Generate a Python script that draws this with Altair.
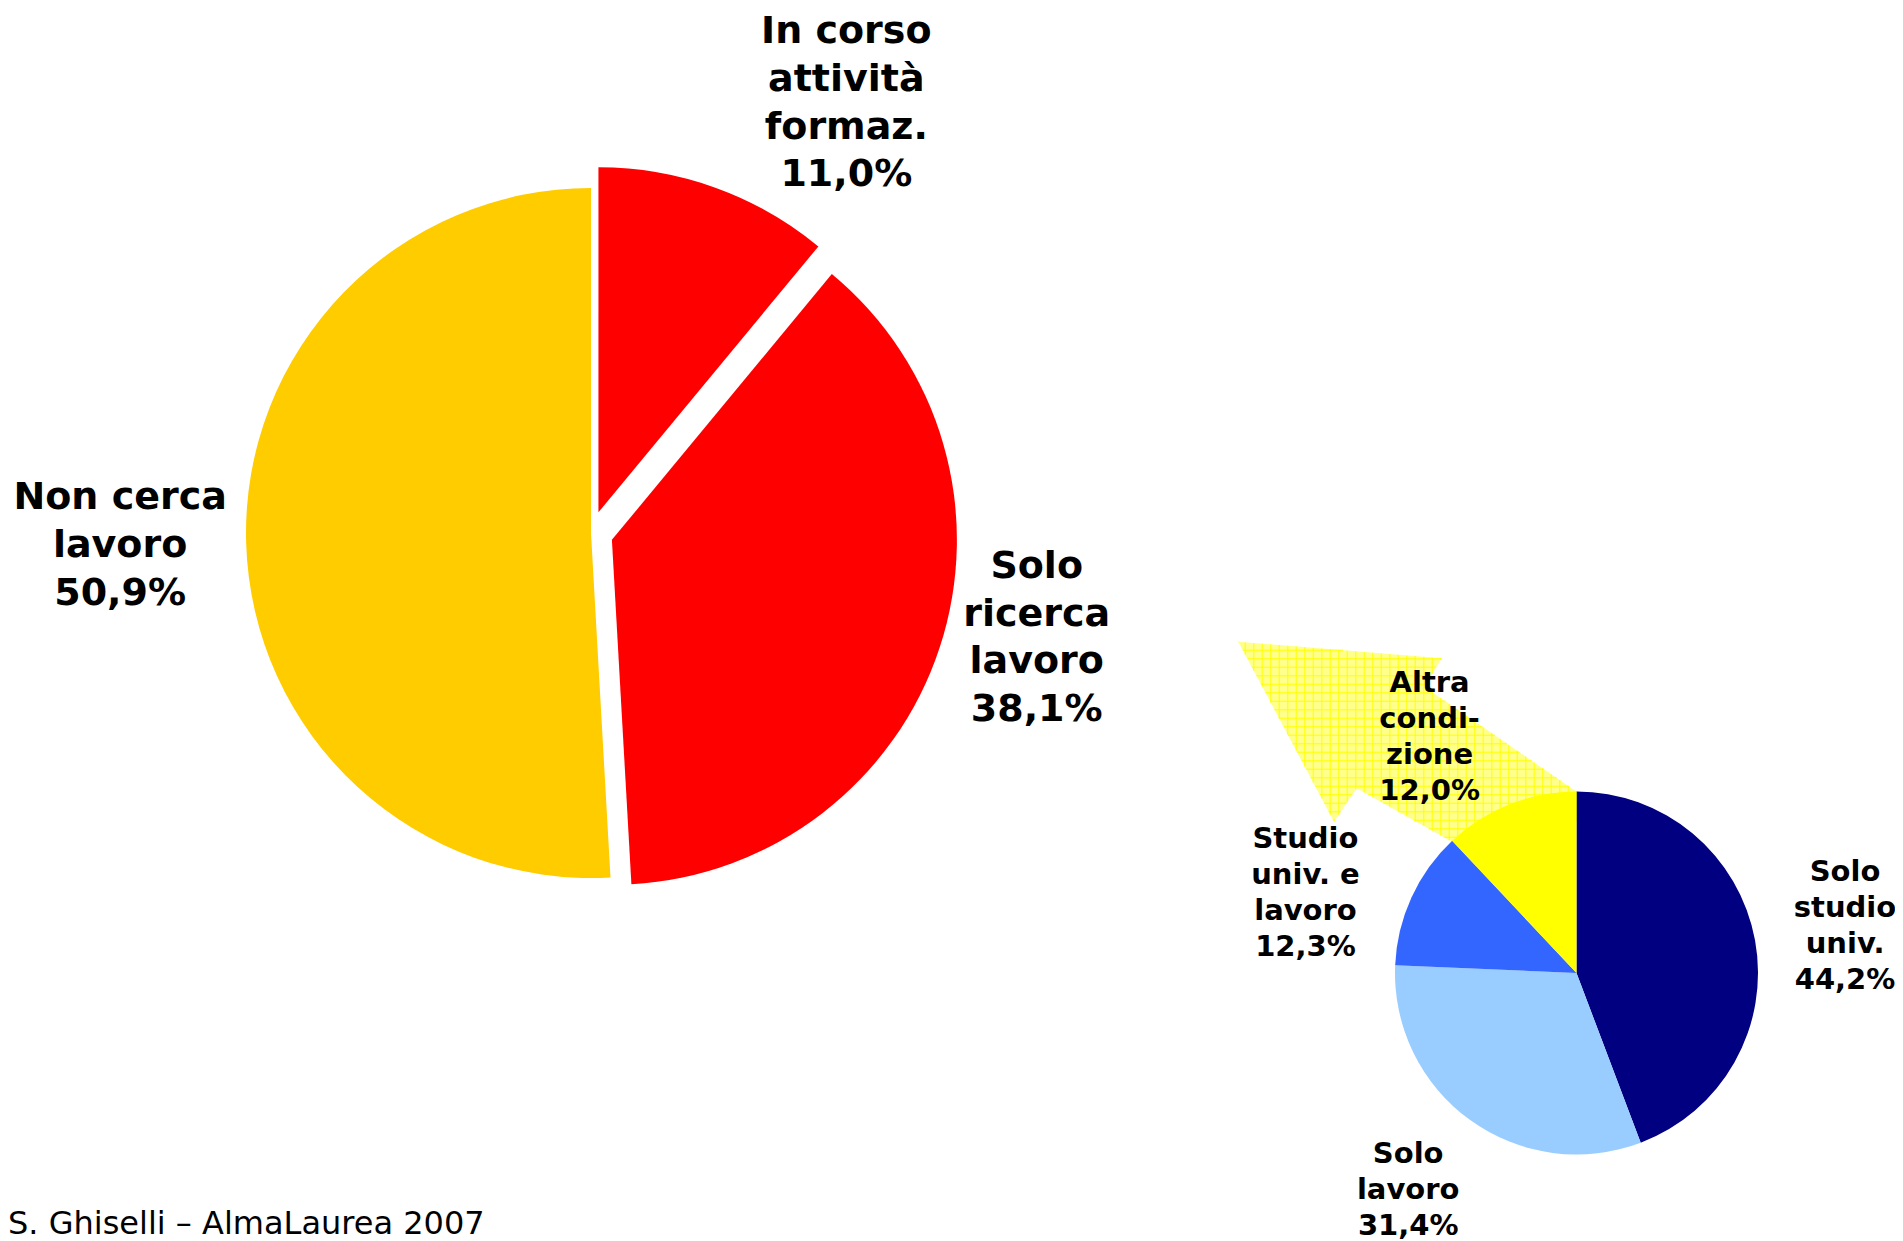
import math
import altair as alt
import pandas as pd

# ---------------- data ----------------
big_categories = ["In corso\nattività\nformaz.", "Solo\nricerca\nlavoro", "Non cerca\nlavoro"]
big_values = [11.0, 38.1, 50.9]

small_categories = ["Solo\nstudio\nuniv.", "Solo\nlavoro", "Studio\nuniv. e\nlavoro", "Altra\ncondi-\nzione"]
small_values = [44.2, 31.4, 12.3, 12.0]

source_note = "S. Ghiselli – AlmaLaurea 2007"

# ---------------- styles ----------------
W, H = 1887, 1233
FONT = "DejaVu Sans"
BIG = dict(cx=583, cy=525, r=345, font=38, lh=47.8)
SMALL = dict(cx=1568.5, cy=965, r=181.5, font=29, lh=36)
big_colors = ["#FF0000", "#FF0000", "#FFCC00"]
small_colors = ["#000080", "#99CCFF", "#3366FF", "#FFFF00"]
big_explode = [22, 22, 0]
small_explode = [0, 0, 0, 0]
# label block-centre offsets from the outer midpoint of each slice (px)
big_label_offset = [(131, -84), (97, -9), (-126, 3)]
small_label_offset = [(90, -14), (-62, 70), (-106, -4), (-80, -67)]

# decorative block arrow (page px, relative shape), drawn under the small pie
ARROW_ANCHOR = (1400, 750)
arrow_poly = [(1238.3, 641.7), (1441.7, 658.3), (1424.3, 686.7), (1605.0, 811.2),
              (1480.0, 857.6), (1356.7, 788.3), (1334.0, 821.7)]
ARROW_FILL = "#FFFF8C"
ARROW_GRID = "#FFFF00"
GRID_STEP = 8.5


def fmt(v):
    return f"{v:.1f}".replace(".", ",") + "%"


def pie_frame(cats, vals, colors, explode, offs):
    labels = [c + "\n" + fmt(v) for c, v in zip(cats, vals)]
    return pd.DataFrame({
        "cat": cats,
        "value": vals,
        "order": list(range(len(cats))),
        "color": colors,
        "explode": explode,
        "ox": [o[0] for o in offs],
        "oy": [o[1] for o in offs],
        "label": labels,
        "nlines": [lab.count("\n") + 1 for lab in labels],
    })


def pie_layers(df, cfg):
    total = float(sum(df["value"]))
    cx, cy, r, lh = cfg["cx"], cfg["cy"], cfg["r"], cfg["lh"]
    base = alt.Chart(df).transform_window(
        cum="sum(value)", sort=[alt.SortField("order")], frame=[None, 0]
    ).transform_calculate(
        start="datum.cum - datum.value",
        midA=f"(datum.cum - datum.value / 2) / {total} * 2 * PI",
    ).transform_calculate(
        px=f"{cx} + datum.explode * sin(datum.midA)",
        py=f"{cy} - datum.explode * cos(datum.midA)",
        lx=f"{cx} + (datum.explode + {r}) * sin(datum.midA) + datum.ox",
        ly=(f"{cy} - (datum.explode + {r}) * cos(datum.midA) + datum.oy"
            f" - (datum.nlines - 1) / 2 * {lh}"),
    )
    arcs = base.mark_arc(radius=r, stroke=None).encode(
        theta=alt.Theta("start:Q", scale=alt.Scale(domain=[0, total], range=[0, 2 * math.pi])),
        theta2=alt.Theta2("cum:Q"),
        x=alt.X("px:Q", scale=None),
        y=alt.Y("py:Q", scale=None),
        color=alt.Color("color:N", scale=None),
    )
    labels = base.mark_text(
        font=FONT, fontWeight="bold", fontSize=cfg["font"], lineHeight=lh,
        lineBreak="\n", align="center", baseline="middle", color="black",
    ).encode(
        x=alt.X("lx:Q", scale=None),
        y=alt.Y("ly:Q", scale=None),
        text="label:N",
    )
    return arcs, labels


def grid_path(poly, step, ox, oy):
    segs = []
    n = len(poly)
    for vertical in (True, False):
        vals = [p[0] if vertical else p[1] for p in poly]
        k = math.floor(min(vals) / step) * step + step / 2
        while k < max(vals):
            ints = []
            for i in range(n):
                (x1, y1), (x2, y2) = poly[i], poly[(i + 1) % n]
                a1, a2 = (x1, x2) if vertical else (y1, y2)
                b1, b2 = (y1, y2) if vertical else (x1, x2)
                if (a1 <= k < a2) or (a2 <= k < a1):
                    t = (k - a1) / (a2 - a1)
                    ints.append(b1 + t * (b2 - b1))
            ints.sort()
            for j in range(0, len(ints) - 1, 2):
                if vertical:
                    segs.append(f"M{k - ox:.1f},{ints[j] - oy:.1f}L{k - ox:.1f},{ints[j + 1] - oy:.1f}")
                else:
                    segs.append(f"M{ints[j] - ox:.1f},{k - oy:.1f}L{ints[j + 1] - ox:.1f},{k - oy:.1f}")
            k += step
    return "".join(segs)


ax, ay = ARROW_ANCHOR
arrow_path = "M" + "L".join(f"{x - ax:.1f},{y - ay:.1f}" for x, y in arrow_poly) + "Z"
grid = grid_path(arrow_poly, GRID_STEP, ax, ay)
one = pd.DataFrame({"k": [0]})
arrow = alt.Chart(one).mark_point(
    shape=arrow_path, size=4, filled=True, fill=ARROW_FILL, color=ARROW_FILL,
    opacity=1, strokeWidth=0,
).encode(x=alt.value(ax - 8), y=alt.value(ay - 8))
arrow_grid = alt.Chart(one).mark_point(
    shape=grid, size=4, filled=False, stroke=ARROW_GRID, color=ARROW_GRID,
    opacity=1, strokeWidth=1,
).encode(x=alt.value(ax - 8), y=alt.value(ay - 8))

big_df = pie_frame(big_categories, big_values, big_colors, big_explode, big_label_offset)
small_df = pie_frame(small_categories, small_values, small_colors, small_explode, small_label_offset)
big_arcs, big_labels = pie_layers(big_df, BIG)
small_arcs, small_labels = pie_layers(small_df, SMALL)

note = alt.Chart(pd.DataFrame({"t": [source_note]})).mark_text(
    font=FONT, fontSize=32, align="left", baseline="alphabetic", color="black",
).encode(x=alt.value(0), y=alt.value(1226), text="t:N")

chart = alt.layer(
    big_arcs, arrow, arrow_grid, small_arcs, big_labels, small_labels, note
).resolve_scale(theta="independent").properties(
    width=W, height=H, padding=0, autosize=alt.AutoSizeParams(type="none"),
    background="white",
).configure_view(stroke=None)

chart.save("out.html", embed_options={"renderer": "svg", "actions": False})
